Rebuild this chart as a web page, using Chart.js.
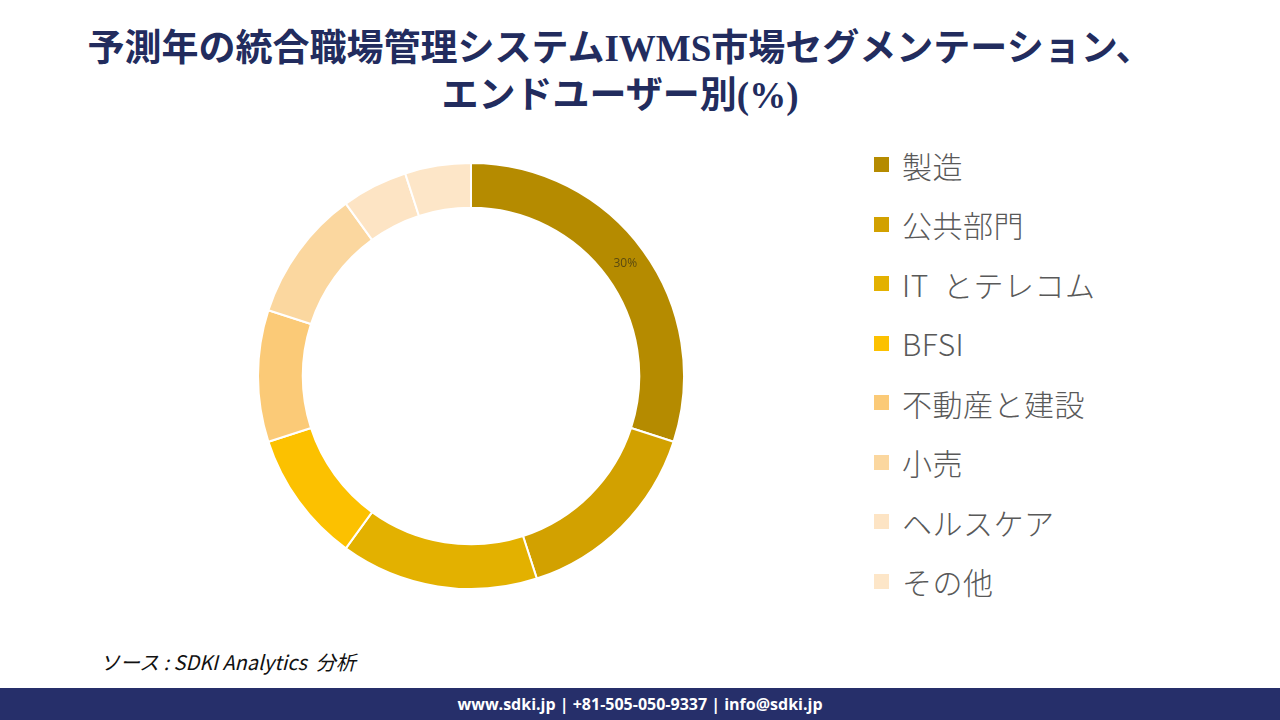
<!DOCTYPE html>
<html>
<head>
<meta charset="utf-8">
<script src="https://cdn.jsdelivr.net/npm/chart.js@4.4.1/dist/chart.umd.min.js"></script>
<style>
  html, body { margin: 0; padding: 0; background: #fff; }
  body { width: 1280px; height: 720px; position: relative; overflow: hidden; font-family: "Noto Sans CJK JP", sans-serif; }
  .title {
    position: absolute; left: 0; width: 1240px; top: 25px; text-align: center;
    font-family: "Liberation Serif", "Noto Sans CJK JP", serif; font-weight: bold;
    font-size: 37px; line-height: 47px; color: #222c5e;
  }
  #donut { position: absolute; left: 257px; top: 162px; }
  #legend { position: absolute; left: 874px; top: 135px; }
  .item { height: 59.5px; display: flex; align-items: center; }
  .box { width: 15px; height: 15px; margin-right: 13px; }
  .lbl { font-family: "Noto Sans CJK JP", sans-serif; font-weight: 300; font-size: 30px; letter-spacing: 0.5px; color: #595959; white-space: pre; }
  .source { position: absolute; left: 100px; top: 647px; font-size: 20px; font-style: italic; color: #111; }
  .footer {
    position: absolute; left: 0; top: 688px; width: 1280px; height: 32px; background: #262f6a;
    color: #fff; font-family: "Open Sans", sans-serif; font-weight: bold; font-size: 16px;
    line-height: 32px; text-align: center;
  }
</style>
</head>
<body>
<div class="title">予測年の統合職場管理システムIWMS市場セグメンテーション、<br>エンドユーザー別(%)</div>
<canvas id="donut" width="428" height="428"></canvas>
<div id="legend"></div>
<div class="source">ソース : SDKI Analytics &nbsp;分析</div>
<div class="footer">www.sdki.jp | +81-505-050-9337 | info@sdki.jp</div>
<script>
const segments = ['製造', '公共部門', 'IT  とテレコム', 'BFSI', '不動産と建設', '小売', 'ヘルスケア', 'その他']
const shares = [30, 15, 15, 10, 10, 10, 5, 5]
const colors = ['#b58b00', '#d2a100', '#e3b100', '#fcc100', '#fbca77', '#fbd79f', '#fde4c4', '#fde6c8']

// only the biggest slice carries a label in the source
const sliceLabel = {
  id: 'sliceLabel',
  afterDatasetsDraw(chart) {
    const ctx = chart.ctx
    const arc = chart.getDatasetMeta(0).data[0]
    const pos = arc.tooltipPosition()
    ctx.save()
    ctx.font = '12px "Open Sans", sans-serif'
    ctx.fillStyle = '#5a4a10'
    ctx.textAlign = 'center'
    ctx.textBaseline = 'middle'
    ctx.fillText(shares[0] + '%', pos.x, pos.y)
    ctx.restore()
  }
}

const chart = new Chart(document.getElementById('donut').getContext('2d'), {
  type: 'doughnut',
  data: {
    labels: segments,
    datasets: [{
      data: shares,
      backgroundColor: colors,
      borderColor: '#ffffff',
      borderWidth: 2,
      hoverOffset: 0
    }]
  },
  options: {
    responsive: false,
    animation: false,
    cutout: '79%',
    layout: { padding: 0 },
    plugins: {
      legend: { display: false },
      tooltip: { enabled: false }
    }
  },
  plugins: [sliceLabel]
})

// html legend built from the chart's own legend items
const legendEl = document.getElementById('legend')
const items = chart.options.plugins.legend.labels.generateLabels(chart)
items.forEach(it => {
  const row = document.createElement('div')
  row.className = 'item'
  const box = document.createElement('div')
  box.className = 'box'
  box.style.background = it.fillStyle
  const lbl = document.createElement('span')
  lbl.className = 'lbl'
  lbl.textContent = it.text
  row.appendChild(box)
  row.appendChild(lbl)
  legendEl.appendChild(row)
})
</script>
</body>
</html>
